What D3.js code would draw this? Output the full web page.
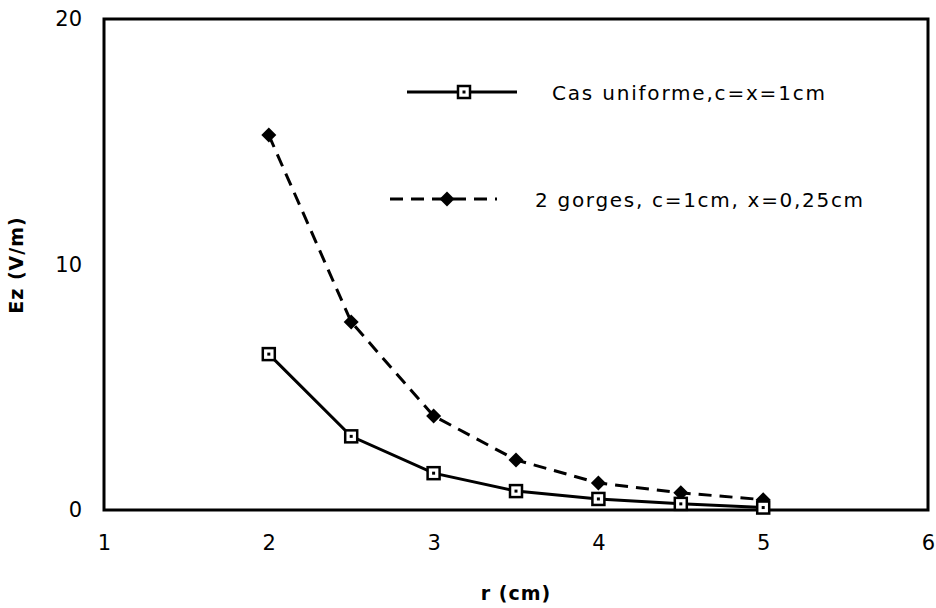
<!DOCTYPE html>
<html><head><meta charset="utf-8">
<script src="https://cdn.jsdelivr.net/npm/d3@7"></script>
<style>body{margin:0;background:#fff;} text{font-family:"DejaVu Sans",sans-serif;fill:#000;}</style>
</head><body><svg id="c" width="936" height="608"></svg>
<script>
const rValues = [2, 2.5, 3, 3.5, 4, 4.5, 5];
const uniforme = [6.35, 3.0, 1.5, 0.77, 0.45, 0.25, 0.1];
const gorges = [15.27, 7.66, 3.83, 2.04, 1.1, 0.7, 0.42];
const seriesNames = ["Cas uniforme,c=x=1cm", "2 gorges, c=1cm, x=0,25cm"];
const xTicks = [1, 2, 3, 4, 5, 6];
const yTicks = [0, 10, 20];
const xTitle = "r (cm)";
const yTitle = "Ez (V/m)";

const svg = d3.select("#c");
const x = d3.scaleLinear().domain([1, 6]).range([104, 928]);
const y = d3.scaleLinear().domain([0, 20]).range([510, 19]);

svg.append("rect").attr("x", x(1)).attr("y", y(20)).attr("width", x(6) - x(1)).attr("height", y(0) - y(20))
  .attr("fill", "none").attr("stroke", "#000").attr("stroke-width", 3);

const xa = svg.append("g").attr("transform", `translate(0,${y(0)})`)
  .call(d3.axisBottom(x).tickValues(xTicks).tickSize(0).tickPadding(25).tickFormat(d3.format("d")));
xa.select(".domain").remove();
xa.selectAll("text").attr("font-size", 21).style("font-family", "DejaVu Sans");
const ya = svg.append("g").attr("transform", `translate(${x(1)},0)`)
  .call(d3.axisLeft(y).tickValues(yTicks).tickSize(0).tickPadding(22).tickFormat(d3.format("d")));
ya.select(".domain").remove();
ya.selectAll("text").attr("font-size", 21).style("font-family", "DejaVu Sans");

svg.append("text").attr("x", 516).attr("y", 600).attr("text-anchor", "middle")
  .attr("font-size", 19).attr("font-weight", "bold").attr("letter-spacing", 1).text(xTitle);
svg.append("text").attr("transform", "translate(23,265) rotate(-90)").attr("text-anchor", "middle")
  .attr("font-size", 19).attr("font-weight", "bold").attr("letter-spacing", 1).text(yTitle);

const line = d3.line().x(d => x(d[0])).y(d => y(d[1]));
const dU = rValues.map((r, i) => [r, uniforme[i]]);
const dG = rValues.map((r, i) => [r, gorges[i]]);

svg.append("path").datum(dG).attr("d", line).attr("fill", "none").attr("stroke", "#000")
  .attr("stroke-width", 3).attr("stroke-dasharray", "13,8");
svg.append("path").datum(dU).attr("d", line).attr("fill", "none").attr("stroke", "#000")
  .attr("stroke-width", 3);

function diamond(g, cx, cy) {
  g.append("path").attr("d", `M${cx},${cy - 7.5}L${cx + 7.5},${cy}L${cx},${cy + 7.5}L${cx - 7.5},${cy}Z`).attr("fill", "#000");
}
function square(g, cx, cy) {
  g.append("rect").attr("x", cx - 6).attr("y", cy - 6).attr("width", 12).attr("height", 12)
    .attr("fill", "#fff").attr("stroke", "#000").attr("stroke-width", 2.5);
  g.append("rect").attr("x", cx - 1.5).attr("y", cy - 1.5).attr("width", 3).attr("height", 3).attr("fill", "#000");
}
const mk = svg.append("g");
dG.forEach(d => diamond(mk, x(d[0]), y(d[1])));
dU.forEach(d => square(mk, x(d[0]), y(d[1])));

const lg = svg.append("g");
lg.append("line").attr("x1", 407).attr("x2", 517).attr("y1", 92).attr("y2", 92).attr("stroke", "#000").attr("stroke-width", 3);
square(lg, 464, 92);
lg.append("text").attr("x", 552).attr("y", 100).attr("font-size", 20).attr("letter-spacing", 1.8).text(seriesNames[0]);
lg.append("line").attr("x1", 390).attr("x2", 497).attr("y1", 199).attr("y2", 199).attr("stroke", "#000").attr("stroke-width", 3).attr("stroke-dasharray", "13,8");
diamond(lg, 447, 199);
lg.append("text").attr("x", 535).attr("y", 207).attr("font-size", 20).attr("letter-spacing", 1.7).text(seriesNames[1]);
</script></body></html>
